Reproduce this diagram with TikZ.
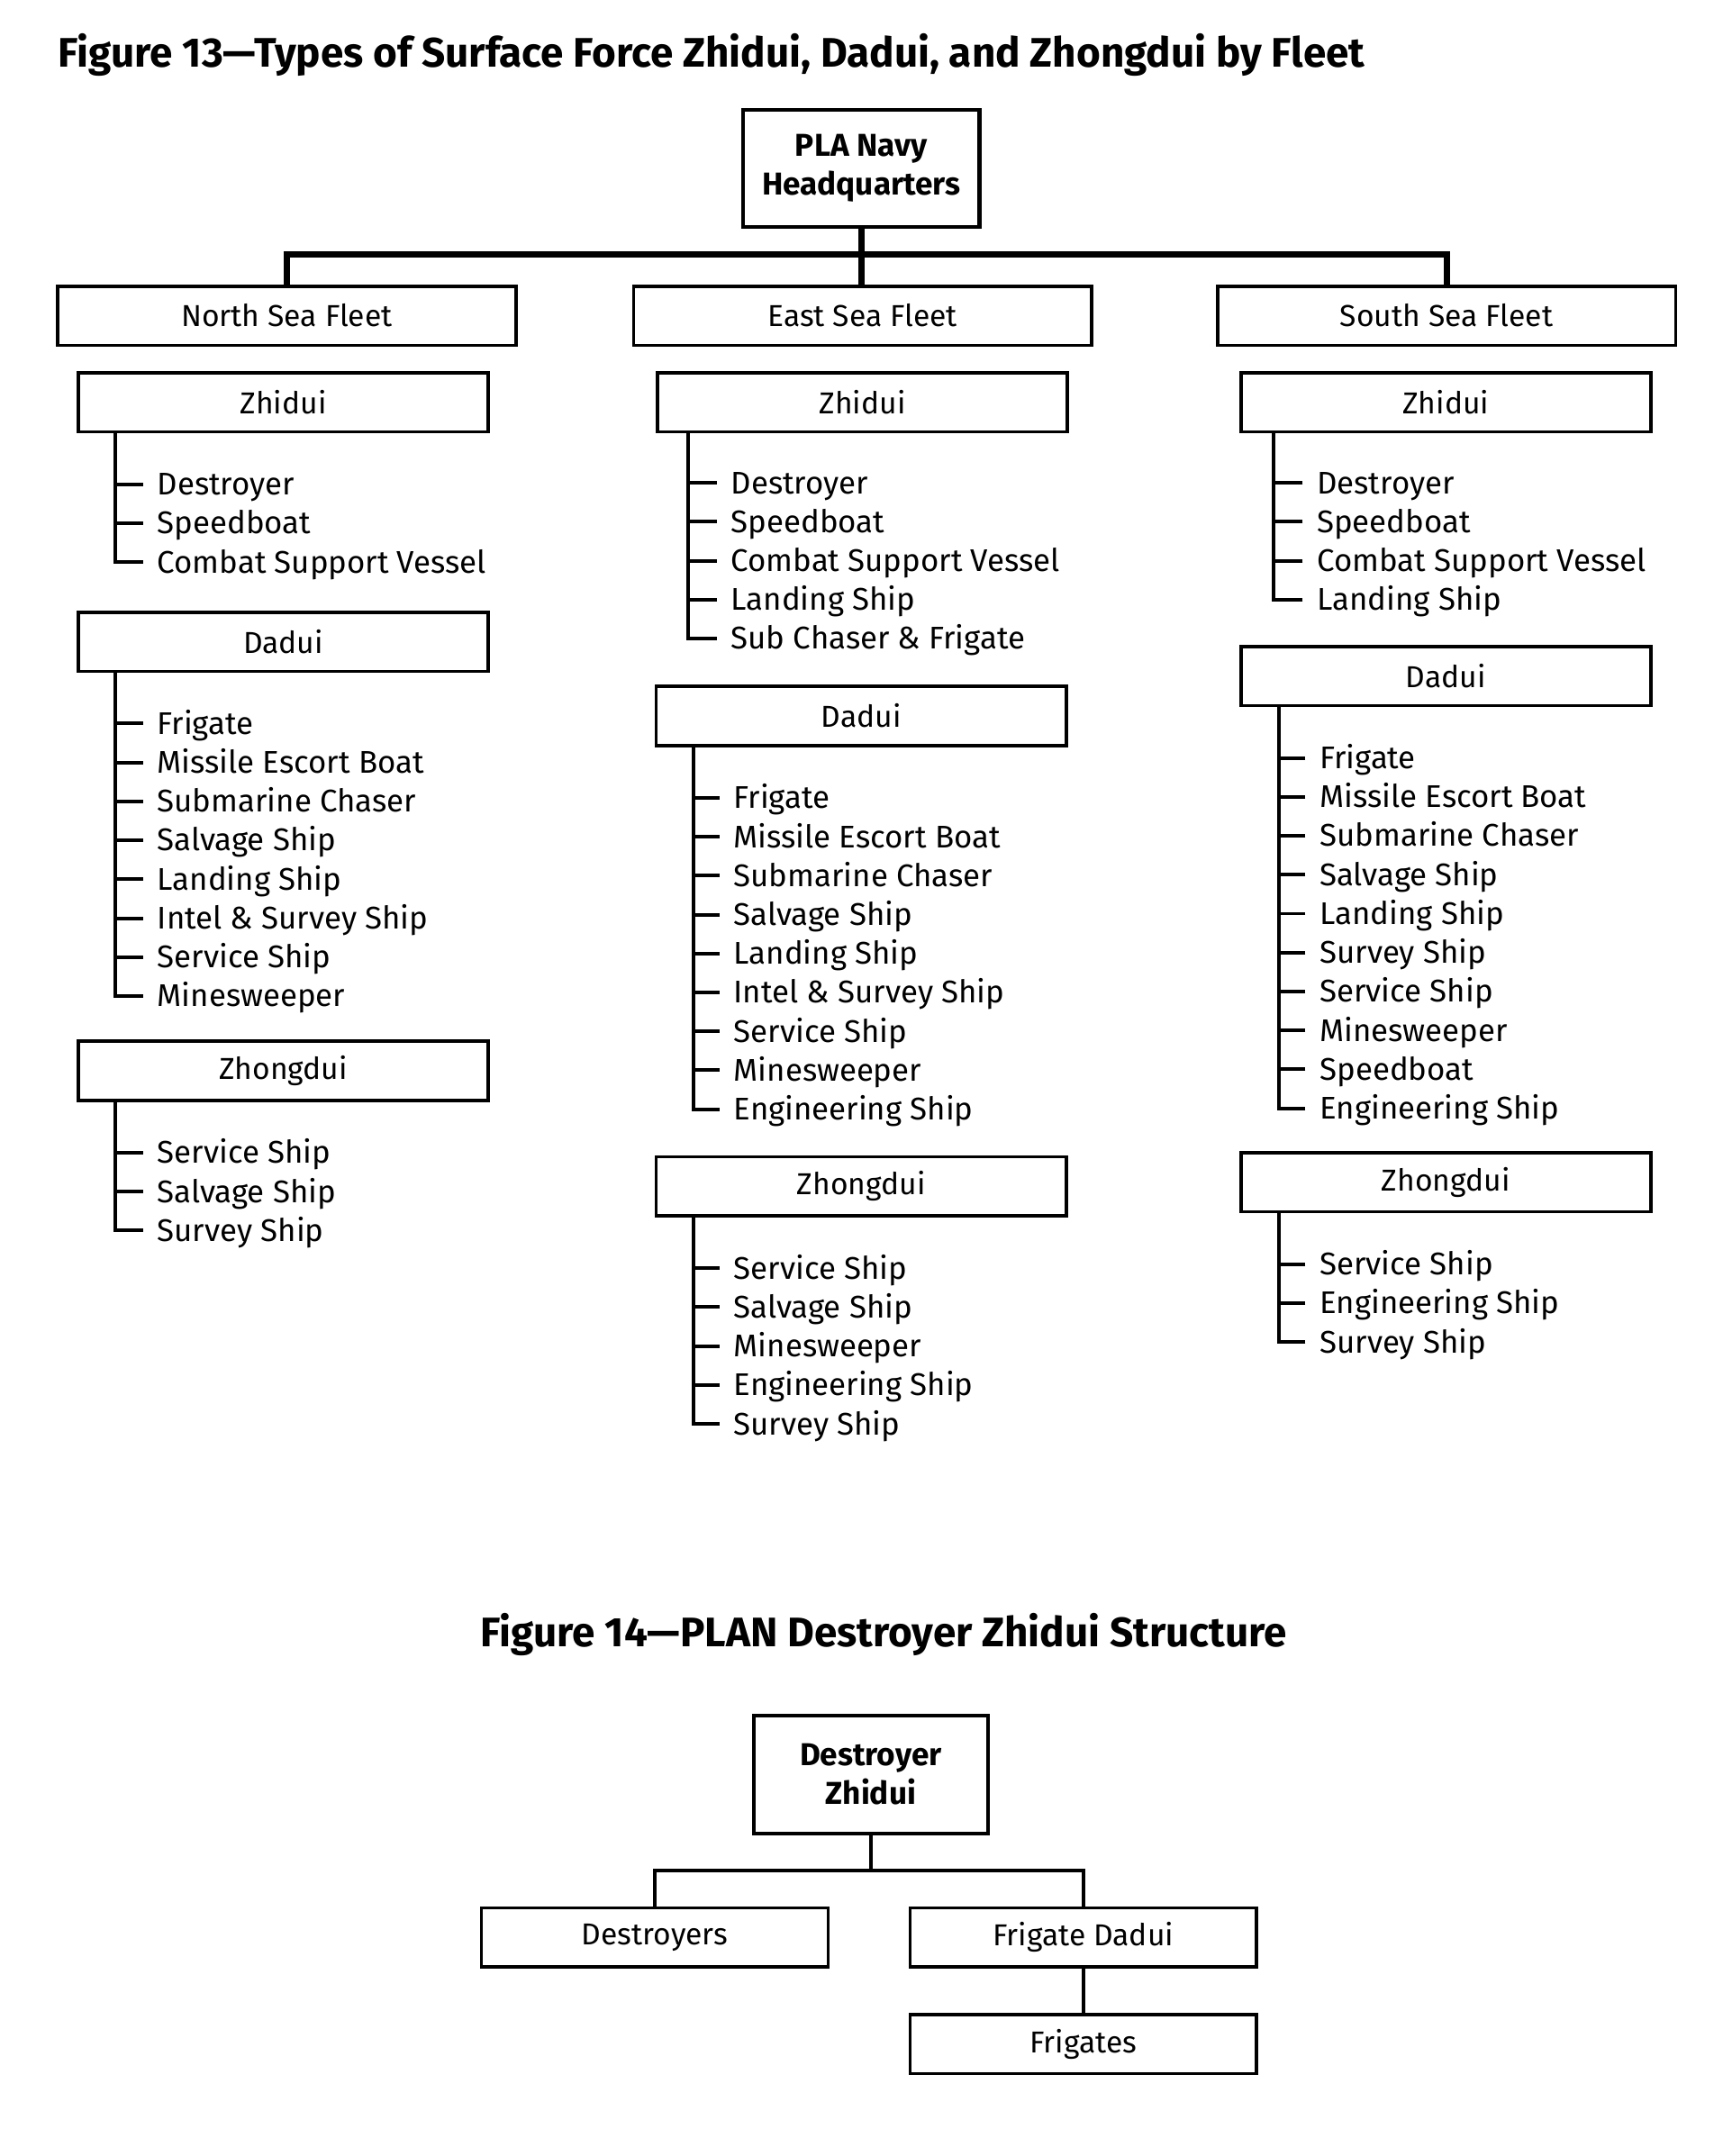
\documentclass[tikz,border=0pt]{standalone}
\usepackage{fontspec}
\setmainfont{Fira Sans}
\begin{document}
\begin{tikzpicture}[x=0.5pt,y=-0.5pt]

    \tikzset{
      unit/.style={
        draw,
        line width=1.2pt,
        inner sep=0pt,
        minimum width=149pt,
        minimum height=21.5pt,
        font=\fontsize{11}{13}\selectfont,
      },
      fleet/.style={unit, minimum width=166.5pt},
      head/.style={unit, line width=1.4pt, minimum width=86pt, minimum height=42.5pt,
        align=center, font=\fontsize{11.5}{14.1}\selectfont\bfseries},
      wide/.style={unit, minimum width=126pt},
      ship/.style={anchor=west, inner xsep=5pt, inner ysep=0pt, text height=7.8pt,
        text depth=0pt, font=\fontsize{11.4}{13}\selectfont},
      tree/.style={line width=1.3pt},
      bus/.style={line width=2.3pt},
      caption/.style={inner sep=0pt, font=\fontsize{15}{18}\selectfont\bfseries},
    }
    \useasboundingbox (0,0) rectangle (1258.4,1567.4);

	% Figure 13
	\node[caption, anchor=base west] (cap13) at (42,49) {Figure 13---Types of Surface Force Zhidui, Dadui, and Zhongdui by Fleet};
	\node[head] (hq) at (626,122.5) {PLA Navy\\Headquarters};
	\node[fleet] (north) at (208.5,229.5) {North Sea Fleet};
	\node[fleet] (east) at (627,229.5) {East Sea Fleet};
	\node[fleet] (south) at (1051.5,229.5) {South Sea Fleet};
	\coordinate (bus) at (626,185);
	\draw[bus] (north.north) |- (south.north |- bus) -- (south.north);
	\draw[bus] (hq.south) -- (hq.south |- east.north);

	% North Sea Fleet
	\node[unit] (nz) at (206,292.5) {Zhidui};
	\coordinate (nzt) at (84,314);
	\foreach \s [count=\i] in {Destroyer, Speedboat, Combat Support Vessel}{
	  \node[ship] (nzs\i) at (104,{352+28.3*(\i-1)}) {\s};
	  \draw[tree] (nzs\i.west) -- (nzs\i.west -| nzt);
	}
	\draw[tree] (nzt) |- (nzs3.west);

	\node[unit] (nd) at (206,466.5) {Dadui};
	\coordinate (ndt) at (84,488);
	\foreach \s [count=\i] in {Frigate, Missile Escort Boat, Submarine Chaser, Salvage Ship,
	    Landing Ship, Intel \& Survey Ship, Service Ship, Minesweeper}{
	  \node[ship] (nds\i) at (104,{526+28.3*(\i-1)}) {\s};
	  \draw[tree] (nds\i.west) -- (nds\i.west -| ndt);
	}
	\draw[tree] (ndt) |- (nds8.west);

	\node[unit] (nh) at (206,778.5) {Zhongdui};
	\coordinate (nht) at (84,800);
	\foreach \s [count=\i] in {Service Ship, Salvage Ship, Survey Ship}{
	  \node[ship] (nhs\i) at (104,{838+28.3*(\i-1)}) {\s};
	  \draw[tree] (nhs\i.west) -- (nhs\i.west -| nht);
	}
	\draw[tree] (nht) |- (nhs3.west);

	% East Sea Fleet
	\node[unit] (ez) at (627,292.5) {Zhidui};
	\coordinate (ezt) at (500,314);
	\foreach \s [count=\i] in {Destroyer, Speedboat, Combat Support Vessel, Landing Ship,
	    Sub Chaser \& Frigate}{
	  \node[ship] (ezs\i) at (521,{351+28.3*(\i-1)}) {\s};
	  \draw[tree] (ezs\i.west) -- (ezs\i.west -| ezt);
	}
	\draw[tree] (ezt) |- (ezs5.west);

	\node[unit] (ed) at (626,520.5) {Dadui};
	\coordinate (edt) at (504,542);
	\foreach \s [count=\i] in {Frigate, Missile Escort Boat, Submarine Chaser, Salvage Ship,
	    Landing Ship, Intel \& Survey Ship, Service Ship, Minesweeper, Engineering Ship}{
	  \node[ship] (eds\i) at (523,{580+28.3*(\i-1)}) {\s};
	  \draw[tree] (eds\i.west) -- (eds\i.west -| edt);
	}
	\draw[tree] (edt) |- (eds9.west);

	\node[unit] (eh) at (626,862.5) {Zhongdui};
	\coordinate (eht) at (504,884);
	\foreach \s [count=\i] in {Service Ship, Salvage Ship, Minesweeper, Engineering Ship,
	    Survey Ship}{
	  \node[ship] (ehs\i) at (523,{922+28.3*(\i-1)}) {\s};
	  \draw[tree] (ehs\i.west) -- (ehs\i.west -| eht);
	}
	\draw[tree] (eht) |- (ehs5.west);

	% South Sea Fleet
	\node[unit] (sz) at (1051,292.5) {Zhidui};
	\coordinate (szt) at (926,314);
	\foreach \s [count=\i] in {Destroyer, Speedboat, Combat Support Vessel, Landing Ship}{
	  \node[ship] (szs\i) at (947,{351+28.3*(\i-1)}) {\s};
	  \draw[tree] (szs\i.west) -- (szs\i.west -| szt);
	}
	\draw[tree] (szt) |- (szs4.west);

	\node[unit] (sd) at (1051,491.5) {Dadui};
	\coordinate (sdt) at (930,513);
	\foreach \s [count=\i] in {Frigate, Missile Escort Boat, Submarine Chaser, Salvage Ship,
	    Landing Ship, Survey Ship, Service Ship, Minesweeper, Speedboat, Engineering Ship}{
	  \node[ship] (sds\i) at (949,{551+28.3*(\i-1)}) {\s};
	  \draw[tree] (sds\i.west) -- (sds\i.west -| sdt);
	}
	\draw[tree] (sdt) |- (sds10.west);

	\node[unit] (sh) at (1051,859.5) {Zhongdui};
	\coordinate (sht) at (930,881);
	\foreach \s [count=\i] in {Service Ship, Engineering Ship, Survey Ship}{
	  \node[ship] (shs\i) at (949,{919+28.3*(\i-1)}) {\s};
	  \draw[tree] (shs\i.west) -- (shs\i.west -| sht);
	}
	\draw[tree] (sht) |- (shs3.west);

	% Figure 14
	\node[caption] (cap14) at (642.5,1188) {Figure 14---PLAN Destroyer Zhidui Structure};
	\node[head, minimum width=85pt, minimum height=43pt] (dz) at (633,1290) {Destroyer\\Zhidui};
	\node[wide] (dst) at (476,1408.5) {Destroyers};
	\node[wide] (fgd) at (787.5,1408.5) {Frigate Dadui};
	\node[wide] (fgs) at (787.5,1486) {Frigates};
	\coordinate (dzb) at (633,1360);
	\draw[tree] (dz.south) -- (dzb);
	\draw[tree] (dst.north) |- (fgd.north |- dzb) -- (fgd.north);
	\draw[tree] (fgd.south) -- (fgs.north);

\end{tikzpicture}
\end{document}
